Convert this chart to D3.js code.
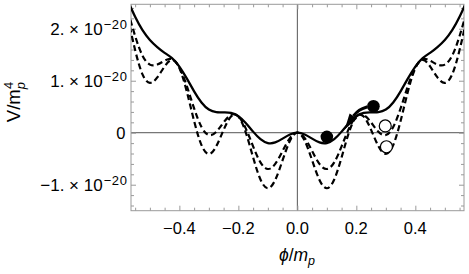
<!DOCTYPE html>
<html>
<head>
<meta charset="utf-8">
<script src="https://d3js.org/d3.v7.min.js"></script>
<style>
  body { margin: 0; background: #fff; }
  text { font-family: "Liberation Sans", Arial, Helvetica, sans-serif; fill: #000; }
  .frame path, .frame line { stroke: #9a9a9a; }
</style>
</head>
<body>
<svg width="469" height="274"></svg>
<script>
// field value phi/m_p
var phi = [-0.575, -0.55, -0.525, -0.5, -0.475, -0.45, -0.425, -0.4, -0.375, -0.35, -0.325, -0.3,
           -0.275, -0.25, -0.225, -0.2, -0.175, -0.15, -0.125, -0.1, -0.075, -0.05, -0.025, 0,
           0.025, 0.05, 0.075, 0.1, 0.125, 0.15, 0.175, 0.2, 0.225, 0.25, 0.275, 0.3,
           0.325, 0.35, 0.375, 0.4, 0.425, 0.45, 0.475, 0.5, 0.525, 0.55, 0.575];

// V/m_p^4 in units of 1e-20
var vSolid = [2.54, 2.23, 1.972, 1.784, 1.647, 1.536, 1.434, 1.271, 1.045, 0.796, 0.581, 0.445,
              0.394, 0.392, 0.382, 0.318, 0.187, 0.021, -0.125, -0.199, -0.187, -0.114, -0.034, 0,
              -0.034, -0.114, -0.187, -0.199, -0.125, 0.021, 0.187, 0.318, 0.382, 0.392, 0.394, 0.445,
              0.581, 0.796, 1.045, 1.271, 1.434, 1.536, 1.647, 1.784, 1.972, 2.23, 2.54];
var vDash1 = [2.35, 1.86, 1.483, 1.31, 1.311, 1.386, 1.415, 1.254, 0.902, 0.467, 0.111, -0.045,
              0.017, 0.198, 0.341, 0.314, 0.083, -0.263, -0.571, -0.698, -0.601, -0.352, -0.103, 0,
              -0.103, -0.352, -0.601, -0.698, -0.571, -0.263, 0.083, 0.314, 0.341, 0.198, 0.017, -0.045,
              0.111, 0.467, 0.902, 1.254, 1.415, 1.386, 1.311, 1.31, 1.483, 1.86, 2.35];
var vDash2 = [2.22, 1.59, 1.122, 0.959, 1.063, 1.275, 1.4, 1.242, 0.796, 0.224, -0.238, -0.408,
              -0.262, 0.055, 0.311, 0.31, 0.007, -0.474, -0.9, -1.068, -0.908, -0.529, -0.154, 0,
              -0.154, -0.529, -0.908, -1.068, -0.9, -0.474, 0.007, 0.31, 0.311, 0.055, -0.262, -0.408,
              -0.238, 0.224, 0.796, 1.242, 1.4, 1.275, 1.063, 0.959, 1.122, 1.59, 2.22];

// balls and arrow (data units)
var filledPhi = [0.1, 0.258], filledV = [-0.08, 0.51];
var openPhi = [0.298, 0.302], openV = [0.13, -0.27];
var arrowPhi = [0.238, 0.21, 0.19], arrowV = [0.5, 0.43, 0.32];
var arrowTipPhi = 0.16, arrowTipV = 0.06;

var xTicks = [-0.4, -0.2, 0, 0.2, 0.4];
var xTickLabels = ["\u22120.4", "\u22120.2", "0.0", "0.2", "0.4"];
var yTicks = [-1, 0, 1, 2];
var yTickMant = ["\u22121.", "", "1.", "2."];

var svg = d3.select("svg"),
    pLeft = 131, pRight = 464, pTop = 4.3, pBottom = 210.7;

var x = d3.scaleLinear().domain([-0.564, 0.565]).range([pLeft, pRight]);
var y = d3.scaleLinear().domain([-1.5, 2.47]).range([pBottom, pTop]);

svg.append("clipPath").attr("id", "clip")
  .append("rect").attr("x", pLeft).attr("y", pTop)
  .attr("width", pRight - pLeft).attr("height", pBottom - pTop);

// zero axes
svg.append("line").attr("x1", pLeft).attr("x2", pRight).attr("y1", y(0)).attr("y2", y(0))
    .attr("stroke", "#555").attr("stroke-width", 1);
svg.append("line").attr("x1", x(0)).attr("x2", x(0)).attr("y1", pTop).attr("y2", pBottom)
    .attr("stroke", "#555").attr("stroke-width", 1);

// frame with inward ticks
var xMinor = d3.range(-0.55, 0.5501, 0.05).filter(function(d) { return Math.abs(d / 0.2 - Math.round(d / 0.2)) > 1e-6; });
var yMinor = d3.range(-1.4, 2.401, 0.2).filter(function(d) { return Math.abs(d - Math.round(d)) > 1e-6; });

function frameAxis(axis, tr) {
  svg.append("g").attr("class", "frame").attr("transform", tr).call(axis)
    .call(function(g) { g.select(".domain").remove(); g.selectAll("text").remove(); });
}
frameAxis(d3.axisBottom(x).tickValues(xMinor).tickSize(-3), "translate(0," + pBottom + ")");
frameAxis(d3.axisBottom(x).tickValues(xTicks).tickSize(-5), "translate(0," + pBottom + ")");
frameAxis(d3.axisTop(x).tickValues(xMinor).tickSize(-3), "translate(0," + pTop + ")");
frameAxis(d3.axisTop(x).tickValues(xTicks).tickSize(-5), "translate(0," + pTop + ")");
frameAxis(d3.axisLeft(y).tickValues(yMinor).tickSize(-3), "translate(" + pLeft + ",0)");
frameAxis(d3.axisLeft(y).tickValues(yTicks).tickSize(-5), "translate(" + pLeft + ",0)");
frameAxis(d3.axisRight(y).tickValues(yMinor).tickSize(-3), "translate(" + pRight + ",0)");
frameAxis(d3.axisRight(y).tickValues(yTicks).tickSize(-5), "translate(" + pRight + ",0)");

svg.append("rect").attr("x", pLeft).attr("y", pTop)
    .attr("width", pRight - pLeft).attr("height", pBottom - pTop)
    .attr("fill", "none").attr("stroke", "#9a9a9a").attr("stroke-width", 1);

// tick labels
svg.append("g").selectAll("text").data(xTicks).enter().append("text")
    .attr("x", function(d) { return x(d); })
    .attr("y", 233.5)
    .attr("text-anchor", "middle")
    .style("font-size", "16.5px")
    .text(function(d, i) { return xTickLabels[i]; });

var yLab = svg.append("g");
yTicks.forEach(function(d, i) {
  var base = y(d) + 6.3, xr = 127.5;
  if (d === 0) {
    yLab.append("text").attr("x", xr - 2).attr("y", base).attr("text-anchor", "end")
        .style("font-size", "16.5px").text("0");
    return;
  }
  var sup = yLab.append("text").attr("y", base - 6.5)
      .style("font-size", "13px").style("letter-spacing", "0.6px").text("\u221220");
  var main = yLab.append("text").attr("y", base)
      .style("font-size", "17px").text(yTickMant[i] + " \u00d7 10");
  var ws = sup.node().getBBox().width, wm = main.node().getBBox().width;
  sup.attr("x", xr - ws);
  main.attr("x", xr - ws - wm - 1);
});

// axis titles
var yt = svg.append("text")
    .attr("transform", "translate(20,102) rotate(-90)")
    .attr("text-anchor", "middle")
    .style("font-size", "18.5px");
yt.append("tspan").text("V/m");
yt.append("tspan").attr("dy", 4.5).style("font-size", "13px").style("font-style", "italic").text("p");
yt.append("tspan").attr("dx", -7).attr("dy", -12).style("font-size", "13px").text("4");

var xt = svg.append("text")
    .attr("x", 297).attr("y", 261)
    .attr("text-anchor", "middle")
    .style("font-size", "17.5px");
xt.append("tspan").style("font-style", "italic").text("\u03d5");
xt.append("tspan").text("/");
xt.append("tspan").style("font-style", "italic").text("m");
xt.append("tspan").attr("dy", 4).style("font-size", "12.5px").style("font-style", "italic").text("p");

// curves
var plot = svg.append("g").attr("clip-path", "url(#clip)");
var line = d3.line()
    .x(function(d) { return x(d[0]); })
    .y(function(d) { return y(d[1]); })
    .curve(d3.curveNatural);

[vDash2, vDash1].forEach(function(v) {
  plot.append("path")
      .datum(phi.map(function(p, i) { return [p, v[i]]; }))
      .attr("d", line)
      .attr("fill", "none").attr("stroke", "#000").attr("stroke-width", 2.2)
      .attr("stroke-dasharray", "6,3.5");
});
plot.append("path")
    .datum(phi.map(function(p, i) { return [p, vSolid[i]]; }))
    .attr("d", line)
    .attr("fill", "none").attr("stroke", "#000").attr("stroke-width", 2.3);

// arrow
var arrowLine = d3.line()
    .x(function(d) { return x(d[0]); })
    .y(function(d) { return y(d[1]); })
    .curve(d3.curveCatmullRom);
plot.append("path")
    .datum(arrowPhi.map(function(p, i) { return [p, arrowV[i]]; }))
    .attr("d", arrowLine)
    .attr("fill", "none").attr("stroke", "#000").attr("stroke-width", 3);
(function() {
  var bx = x(arrowPhi[2]), by = y(arrowV[2]);
  var tx = x(arrowTipPhi), ty = y(arrowTipV);
  var dx = tx - bx, dy = ty - by, len = Math.sqrt(dx * dx + dy * dy);
  var nx = -dy / len * 4.5, ny = dx / len * 4.5;
  plot.append("path")
      .attr("d", "M" + (bx + nx) + "," + (by + ny) + "L" + tx + "," + ty + "L" + (bx - nx) + "," + (by - ny) + "Z")
      .attr("fill", "#000");
})();

// balls
plot.selectAll(".open").data(openPhi).enter().append("circle")
    .attr("cx", function(d) { return x(d); })
    .attr("cy", function(d, i) { return y(openV[i]); })
    .attr("r", 6)
    .attr("fill", "#fff").attr("stroke", "#000").attr("stroke-width", 1.2);
plot.selectAll(".filled").data(filledPhi).enter().append("circle")
    .attr("cx", function(d) { return x(d); })
    .attr("cy", function(d, i) { return y(filledV[i]); })
    .attr("r", 6.3)
    .attr("fill", "#000");
</script>
</body>
</html>
